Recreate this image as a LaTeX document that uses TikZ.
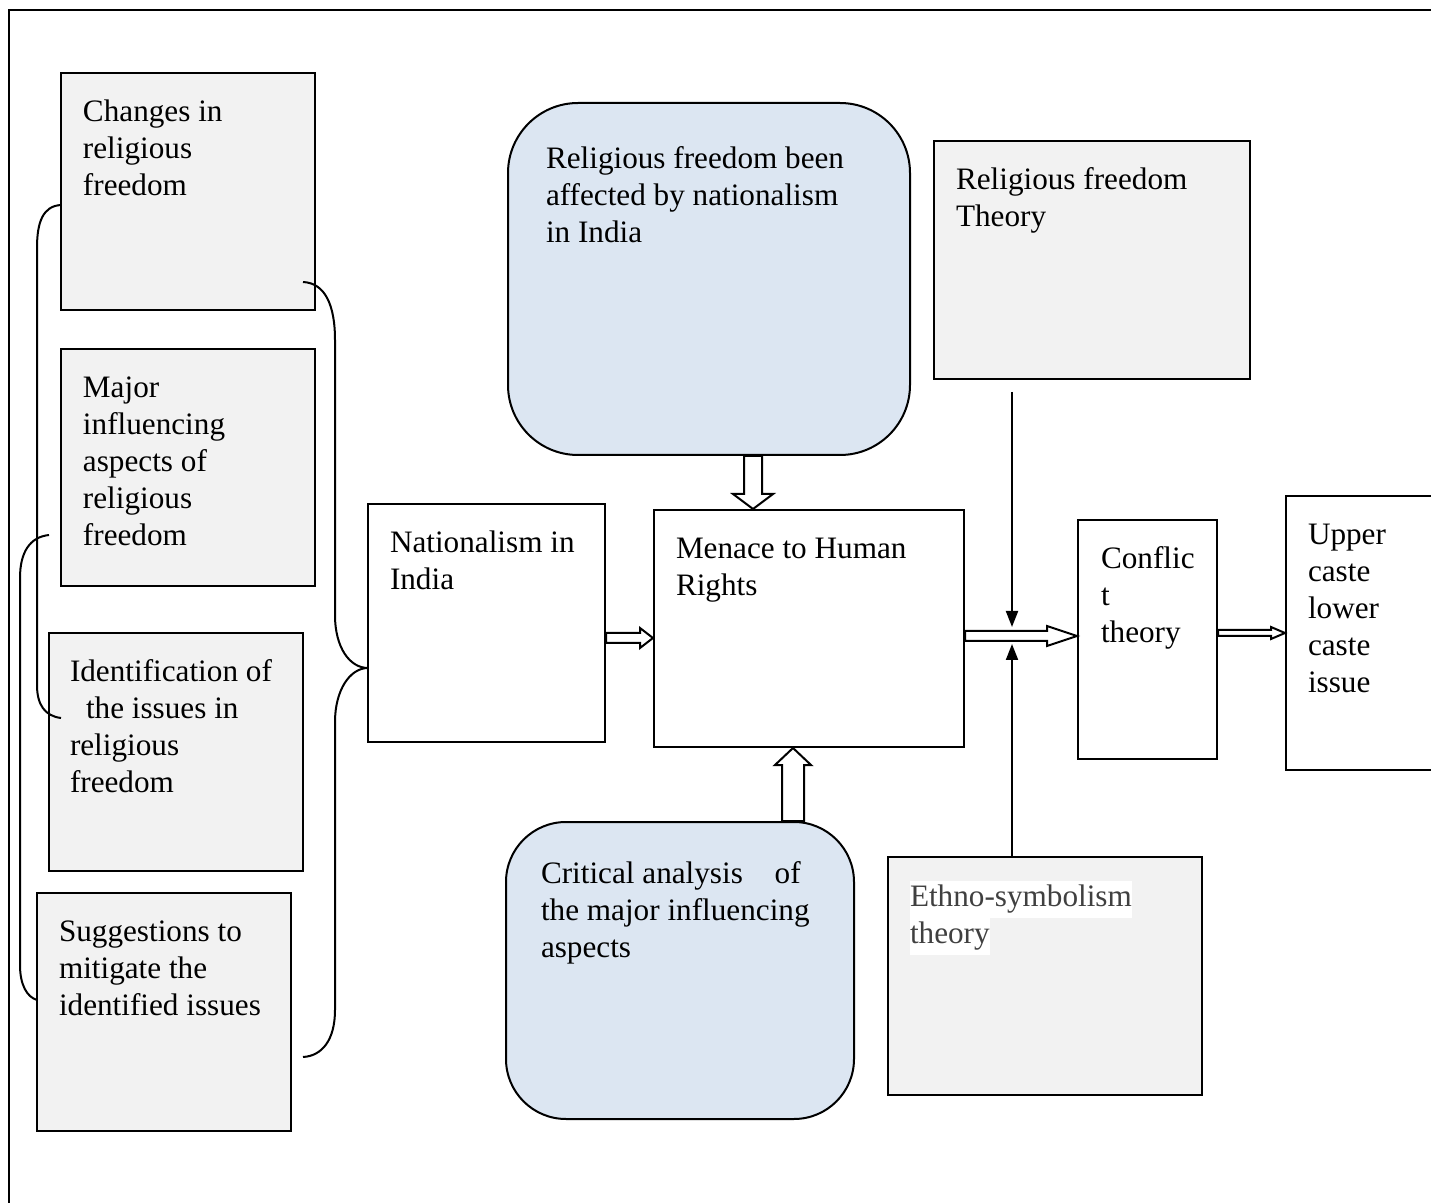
\documentclass[tikz,border=0pt]{standalone}
\usepackage{fontspec}
\setmainfont{Liberation Serif}
\usetikzlibrary{calc,arrows.meta}
\definecolor{boxgray}{HTML}{F2F2F2}
\definecolor{boxblue}{HTML}{DCE6F2}
\definecolor{ethtext}{HTML}{404040}
\setlength{\fboxsep}{0pt}
\newcommand\barrowH[5]{\draw[bararrow] ($(#1)+(0,-#3)$) -- ($(#2)+(-#5,-#3)$) -- ($(#2)+(-#5,-#4)$) -- (#2) -- ($(#2)+(-#5,#4)$) -- ($(#2)+(-#5,#3)$) -- ($(#1)+(0,#3)$) -- cycle;}
\newcommand\barrowD[5]{\draw[bararrow] ($(#1)+(-#3,0)$) -- ($(#2)+(-#3,-#5)$) -- ($(#2)+(-#4,-#5)$) -- (#2) -- ($(#2)+(#4,-#5)$) -- ($(#2)+(#3,-#5)$) -- ($(#1)+(#3,0)$) -- cycle;}
\newcommand\barrowU[5]{\draw[bararrow] ($(#1)+(-#3,0)$) -- ($(#2)+(-#3,#5)$) -- ($(#2)+(-#4,#5)$) -- (#2) -- ($(#2)+(#4,#5)$) -- ($(#2)+(#3,#5)$) -- ($(#1)+(#3,0)$) -- cycle;}
\begin{document}
\begin{tikzpicture}[x=0.5pt,y=-0.5pt,line width=1pt,
  box/.style={draw, line width=1pt, inner sep=0pt, rectangle},
  gbox/.style={box, fill=boxgray},
  wbox/.style={box, fill=white},
  rbox/.style={box, fill=boxblue, rounded corners=#1},
  lbl/.style={anchor=north west, inner sep=0pt, align=left, font=\fontsize{15.6}{18.5}\selectfont},
  bararrow/.style={draw, fill=white, line width=1pt, line join=miter},
  linarrow/.style={line width=1pt, -{Triangle[width=6pt,length=8pt]}},
  brace/.style={line width=1pt}]
\useasboundingbox (0,0) rectangle (1431,1203);
% outer frame
\draw[line width=1pt] (1436,10) -- (9,10) -- (9,1208);

% boxes
\node[gbox, minimum width=127pt, minimum height=118.5pt] (ch) at (188,191.5) {};
\node[gbox, minimum width=127pt, minimum height=118.5pt] (mj) at (188,467.5) {};
\node[gbox, minimum width=127pt, minimum height=119pt] (id) at (176,752) {};
\node[gbox, minimum width=127pt, minimum height=119pt] (sg) at (164,1012) {};
\node[wbox, minimum width=118.5pt, minimum height=119pt] (nat) at (486.5,623) {};
\node[wbox, minimum width=155pt, minimum height=118.5pt] (men) at (809,628.5) {};
\node[rbox=35pt, minimum width=201pt, minimum height=176pt] (rf) at (709,279) {};
\node[gbox, minimum width=158pt, minimum height=119pt] (rft) at (1092,260) {};
\node[wbox, minimum width=69.5pt, minimum height=119.5pt] (cf) at (1147.5,639.5) {};
\node[wbox, minimum width=74pt, minimum height=137pt] (up) at (1360,633) {};
\node[rbox=30pt, minimum width=174pt, minimum height=148.5pt] (ca) at (680,970.5) {};
\node[gbox, minimum width=157pt, minimum height=119pt] (eth) at (1045,976) {};

% labels
\node[lbl] (ch-t) at (82,95) {\strut Changes in\\religious\\freedom};
\node[lbl] (mj-t) at (82,371) {\strut Major\\influencing\\aspects of\\religious\\freedom};
\node[lbl] (id-t) at (69,655) {\strut Identification of\\\hspace*{8pt}the issues in\\religious\\freedom};
\node[lbl] (sg-t) at (58,915) {\strut Suggestions to\\mitigate the\\identified issues};
\node[lbl] (nat-t) at (389,526) {\strut Nationalism in\\India};
\node[lbl] (men-t) at (675,532) {\strut Menace to Human\\Rights};
\node[lbl] (rf-t) at (545,142) {\strut Religious freedom been\\affected by nationalism\\in India};
\node[lbl] (rft-t) at (955,163) {\strut Religious freedom\\Theory};
\node[lbl] (cf-t) at (1100,542) {\strut Conflic\\t\\theory};
\node[lbl] (up-t) at (1307,518) {\strut Upper\\caste\\lower\\caste\\issue};
\node[lbl] (ca-t) at (540,857) {\strut Critical analysis\hspace{12pt} of\\the major influencing\\aspects};
\node[lbl, text=ethtext] (eth-t) at (909,880) {\colorbox{white}{\strut Ethno-symbolism}\\\colorbox{white}{\strut theory}};

% block arrows
\coordinate (a1s) at (753,0 |- rf.south);
\coordinate (a1t) at (753,0 |- men.north);
\barrowD{a1s}{a1t}{9}{20}{15}
\coordinate (a2s) at (nat.east |- 0,638);
\coordinate (a2t) at (men.west |- 0,638);
\barrowH{a2s}{a2t}{5}{10}{13}
\coordinate (a3s) at (793,0 |- ca.north);
\coordinate (a3t) at (793,0 |- men.south);
\barrowU{a3s}{a3t}{11}{18}{17}
\coordinate (a4s) at (men.east |- 0,636);
\coordinate (a4t) at (cf.west |- 0,636);
\barrowH{a4s}{a4t}{5}{10}{30}
\coordinate (a5s) at (cf.east |- 0,633);
\coordinate (a5t) at (up.west |- 0,633);
\barrowH{a5s}{a5t}{3}{6}{14}

% thin arrows
\coordinate (t1s) at (1012,392);
\coordinate (t1t) at (1012,627);
\draw[linarrow] (t1s) -- (t1t);
\coordinate (t2s) at (1012,0 |- eth.north);
\coordinate (t2t) at (1012,644);
\draw[linarrow] (t2s) -- (t2t);

% brackets
\draw[brace] (61,205) .. controls (43,206) and (37,222) .. (37,248) -- (37,685) .. controls (37,705) and (45,716) .. (61,718);
\draw[brace] (49,535) .. controls (30,537) and (20,552) .. (20,578) -- (20,965) .. controls (20,985) and (27,997) .. (37,1000);
\draw[brace] (303,282) .. controls (325,283) and (335,305) .. (335,340) -- (335,615) .. controls (335,648) and (350,668) .. (368,668) .. controls (350,668) and (335,690) .. (335,722) -- (335,1010) .. controls (335,1040) and (322,1056) .. (303,1057);
\end{tikzpicture}
\end{document}
